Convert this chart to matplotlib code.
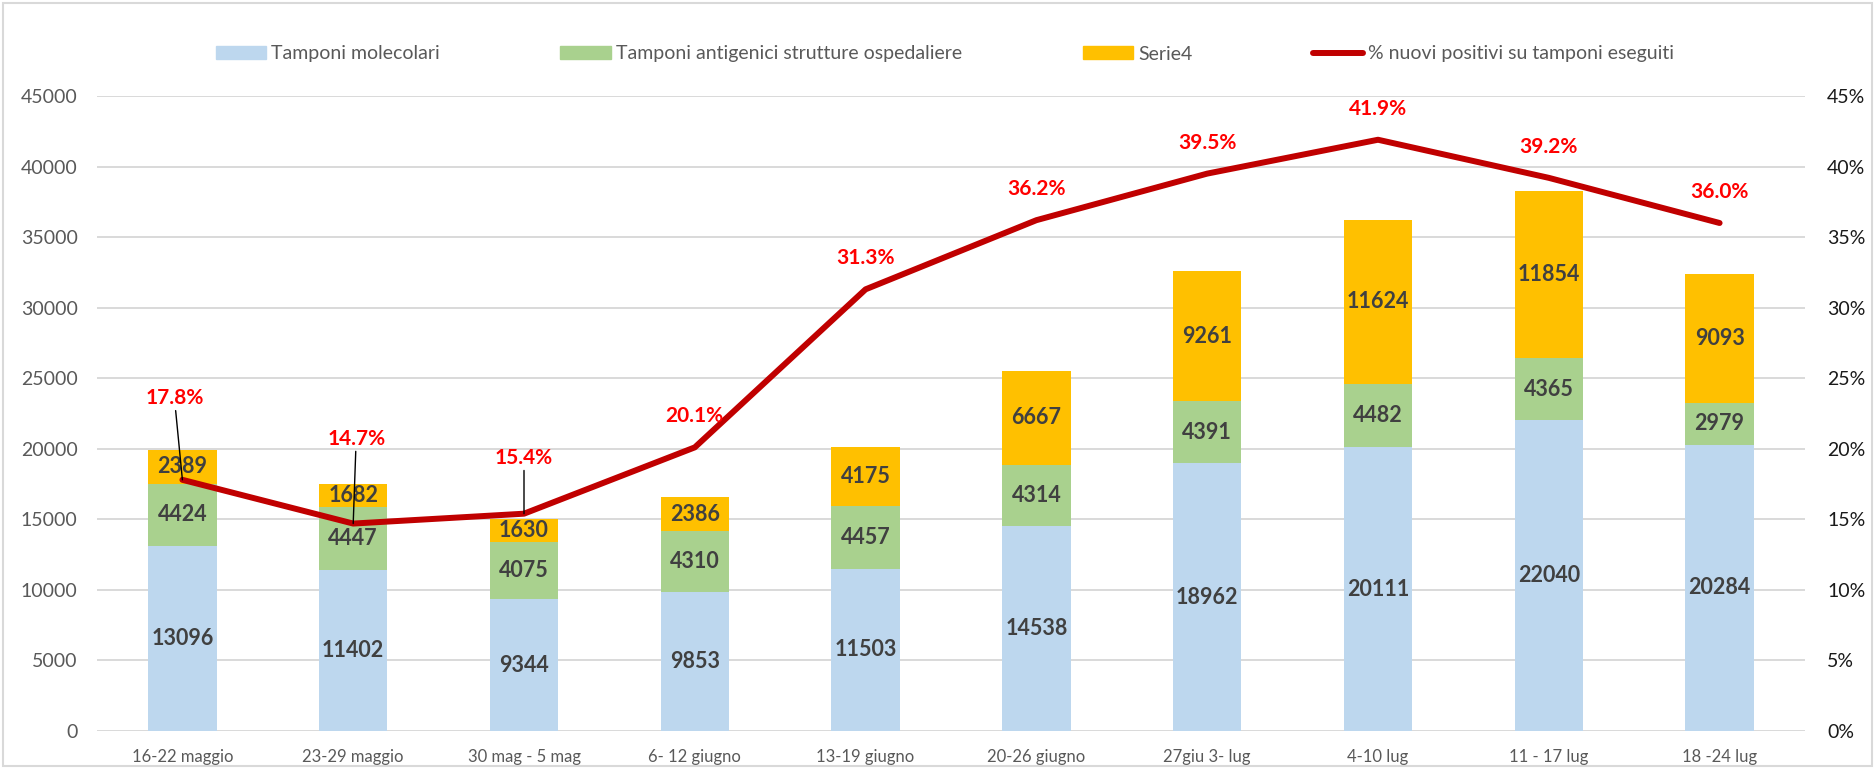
import numpy as np
import matplotlib
matplotlib.use("Agg")
import matplotlib.pyplot as plt
from matplotlib.patches import Patch, Rectangle
from matplotlib.lines import Line2D

plt.rcParams['font.family'] = ['Lato', 'DejaVu Sans']

settimane = ["16-22 maggio", "23-29 maggio", "30 mag - 5 mag", "6- 12 giugno", "13-19 giugno",
             "20-26 giugno", "27giu 3- lug", "4-10 lug", "11 - 17 lug", "18 -24 lug"]
molecolari = [13096, 11402, 9344, 9853, 11503, 14538, 18962, 20111, 22040, 20284]
antigenici = [4424, 4447, 4075, 4310, 4457, 4314, 4391, 4482, 4365, 2979]
serie4 = [2389, 1682, 1630, 2386, 4175, 6667, 9261, 11624, 11854, 9093]
perc_positivi = [17.8, 14.7, 15.4, 20.1, 31.3, 36.2, 39.5, 41.9, 39.2, 36.0]

col_blu = "#BDD7EE"
col_verde = "#A9D18E"
col_oro = "#FFC000"
col_rosso = "#C00000"
col_testo = "#595959"
col_griglia = "#D9D9D9"

W, H = 1875, 769
fig = plt.figure(figsize=(W / 100, H / 100), dpi=100)
fig.patches.append(Rectangle((3 / W, 3 / H), 1 - 6 / W, 1 - 6 / H, transform=fig.transFigure,
                             fill=False, edgecolor=col_griglia, lw=1.5))

ax = fig.add_axes([97 / W, 1 - 731 / H, (1805 - 97) / W, (731 - 96) / H])
x = np.arange(len(settimane))
larg = 0.4

mol = np.array(molecolari)
ant = np.array(antigenici)
s4 = np.array(serie4)

b1 = ax.bar(x, mol, larg, color=col_blu, zorder=2)
b2 = ax.bar(x, ant, larg, bottom=mol, color=col_verde, zorder=2)
b3 = ax.bar(x, s4, larg, bottom=mol + ant, color=col_oro, zorder=2)
for bars in (b1, b2, b3):
    ax.bar_label(bars, label_type='center', color="#404040", fontsize=15.5, fontweight='bold')

ax.set_xlim(-0.5, len(settimane) - 0.5)
ax.set_ylim(0, 45000)
ax.set_yticks(np.arange(0, 45001, 5000))
ax.grid(axis='y', color=col_griglia, lw=1.4, zorder=0)
ax.set_axisbelow(True)
for s in ax.spines.values():
    s.set_visible(False)
ax.tick_params(axis='y', length=0, pad=14, labelsize=14, labelcolor=col_testo)
ax.tick_params(axis='x', length=0, pad=13, labelsize=12, labelcolor=col_testo)
ax.set_xticks(x)
ax.set_xticklabels(settimane)

ax2 = ax.twinx()
ax2.set_ylim(0, 45)
ax2.set_yticks(np.arange(0, 46, 5))
ax2.set_yticklabels([f"{v}%" for v in range(0, 46, 5)])
ax2.tick_params(axis='y', length=0, pad=16, labelsize=14, labelcolor="#1a1a1a")
for s in ax2.spines.values():
    s.set_visible(False)
ax2.plot(x, perc_positivi, color=col_rosso, lw=4.3, solid_capstyle='round', solid_joinstyle='round', zorder=3)

# label offsets in pixels (dx, dy up)
offset = {0: (-8, 82), 1: (3, 85), 2: (0, 56)}
for i, v in enumerate(perc_positivi):
    dx, dy = offset.get(i, (0, 31))
    kw = {}
    if i in offset:
        kw['arrowprops'] = dict(arrowstyle='-', color='black', lw=1, shrinkA=0, shrinkB=0)
    ax2.annotate(f"{v:.1f}%", (x[i], v), xytext=(dx * 0.72, dy * 0.72), textcoords='offset points',
                 ha='center', va='center', color="#FF0000", fontsize=15, fontweight='bold', **kw)

handles = [Patch(color=col_blu), Patch(color=col_verde), Patch(color=col_oro),
           Line2D([], [], color=col_rosso, lw=4.3, solid_capstyle='round')]
labels = ["Tamponi molecolari", "Tamponi antigenici strutture ospedaliere", "Serie4",
          "% nuovi positivi su tamponi eseguiti"]
leg = fig.legend(handles, labels, loc='center', bbox_to_anchor=(945 / W, 1 - 54 / H), ncol=4,
                 frameon=False, fontsize=14, handlelength=2.6, handleheight=0.6,
                 handletextpad=0.25, columnspacing=6.2)
for t in leg.get_texts():
    t.set_color(col_testo)

fig.savefig("out.png", dpi=100)
